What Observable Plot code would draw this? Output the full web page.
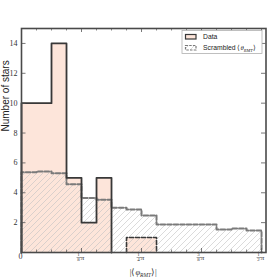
<!DOCTYPE html>
<html><head><meta charset="utf-8">
<script src="https://cdn.jsdelivr.net/npm/d3@7"></script>
<script src="https://cdn.jsdelivr.net/npm/@observablehq/plot@0.6"></script>
<style>body{margin:0;background:#fff}</style>
</head><body><div id="chart"></div>
<script>
// bins in units of pi/32
const binIndex = [0,1,2,3,4,5,6,7,8,9,10,11,12,13,14,15];
const dataCounts = [10,10,14,5,2,5,0,1,1,0,0,0,0,0,0,0];
const scrambledCounts = [5.37,5.42,5.3,4.57,3.65,3.54,3.0,2.88,2.48,1.88,1.88,1.88,1.88,1.54,1.61,1.48];
const xNumerators = [1,1,3,1];
const xDenominators = [8,4,8,2];
const yTicks = [2,4,6,8,10,12,14];
const seriesNames = ["Data", "Scrambled"];

const W = Math.PI/32;
const bins = binIndex.map((k,i)=>({x1:k*W, x2:(k+1)*W, data:dataCounts[i], scr:scrambledCounts[i]}));
function steps(values, from, to){
  const pts=[{x:from*W,y:0}];
  for(let i=from;i<to;i++) pts.push({x:i*W,y:values[i]});
  pts.push({x:to*W,y:0});
  return pts;
}
const majorX = [0, ...xNumerators.map((n,i)=>n/xDenominators[i]*Math.PI)];
const fracTicks = xNumerators.map((n,i)=>({x:n/xDenominators[i]*Math.PI, num:String(n), den:String(xDenominators[i])}));
const minorX = binIndex.slice(1).map(k=>k*W).filter(v=>!majorX.some(m=>Math.abs(m-v)<1e-9));

const mL=21, mR=14.5, mT=28, mB=28, H=280, Wd=280;
const ph = H-mT-mB, pw = Wd-mL-mR;
const serif = "Liberation Serif";
const tickC = "#555";

const plot = Plot.plot({
  width: Wd, height: H,
  marginLeft: mL, marginRight: mR, marginTop: mT, marginBottom: mB,
  x: {domain:[0,1.6], axis:null},
  y: {domain:[0,15], axis:null},
  style: {background:"#fff"},
  marks: [
    Plot.rectY(bins.filter(d=>d.data>0), {x1:"x1", x2:"x2", y:"data", fill:"#fde5da"}),
    Plot.rectY(bins, {x1:"x1", x2:"x2", y:"scr", fill:"url(#hatch)"}),
    Plot.line(steps(scrambledCounts,0,16), {x:"x", y:"y", curve:"step-after", stroke:"#7a7a7a", strokeWidth:2, strokeDasharray:"4.5,2"}),
    Plot.line(steps(dataCounts,0,6), {x:"x", y:"y", curve:"step-after", stroke:"#383838", strokeWidth:1.8}),
    Plot.line(steps(dataCounts,7,9), {x:"x", y:"y", curve:"step-after", stroke:"#383838", strokeWidth:1.6, strokeDasharray:"4,2"}),
    // ticks
    Plot.tickX(majorX, {x:d=>d, insetTop:ph-4, stroke:tickC, strokeWidth:0.8}),
    Plot.tickX(majorX, {x:d=>d, insetBottom:ph-4, stroke:tickC, strokeWidth:0.8}),
    Plot.tickX(minorX, {x:d=>d, insetTop:ph-2.5, stroke:tickC, strokeWidth:0.7}),
    Plot.tickX(minorX, {x:d=>d, insetBottom:ph-2.5, stroke:tickC, strokeWidth:0.7}),
    Plot.tickY(yTicks, {y:d=>d, insetRight:pw-4.5, stroke:tickC, strokeWidth:0.8}),
    Plot.tickY(yTicks, {y:d=>d, insetLeft:pw-4.5, stroke:tickC, strokeWidth:0.8}),
    Plot.frame({stroke:"#4a4a4a", strokeWidth:1.6}),
    // y tick labels
    Plot.text(yTicks, {y:d=>d, text:d=>String(d), frameAnchor:"left", textAnchor:"end", dx:-4, fontFamily:serif, fontSize:8, fill:"#333"}),
    // x tick label 0
    Plot.text([0], {x:d=>d, text:()=>"0", frameAnchor:"bottom", dy:6, dx:-1, fontFamily:serif, fontSize:8, fill:"#333"}),
    // fraction bars
    Plot.dot(fracTicks, {x:"x", frameAnchor:"bottom", dy:5, dx:-2.6, r:1.6, stroke:"#333", strokeWidth:0.45,
      symbol:{draw(ctx, size){const r=Math.sqrt(size)/1.2; ctx.moveTo(-r,0); ctx.lineTo(r,0);}}}),
    // y label
    Plot.text(["Number of stars"], {frameAnchor:"left", text:d=>d, rotate:-90, dx:-16, dy:-9, fontFamily:"Liberation Sans", fontSize:10, fill:"#222"})
  ]
});

const svg = d3.select(plot);
const xs = plot.scale("x");
const defs = svg.append("defs");
const pat = defs.append("pattern").attr("id","hatch").attr("patternUnits","userSpaceOnUse").attr("width",6).attr("height",6);
pat.append("path").attr("d","M-1,1 L1,-1 M0,6 L6,0 M5,7 L7,5").attr("stroke","#c2c2c2").attr("stroke-width",0.6).attr("fill","none");

// fractional x tick labels (one text per tick)
const by = H - mB;
fracTicks.forEach(t=>{
  const px = xs.apply(t.x);
  const tx = svg.append("text").attr("font-family", serif).attr("fill","#333").attr("text-anchor","start");
  tx.append("tspan").attr("x", px-3.8).attr("y", by+4.4).attr("font-size",5).text(t.num);
  tx.append("tspan").attr("x", px-3.8).attr("y", by+8.9).attr("font-size",5).text(t.den);
  tx.append("tspan").attr("x", px-0.2).attr("y", by+8).attr("font-size",7).attr("font-style","italic").text("\u03c0");
});

// x label
const xl = svg.append("text").attr("x", mL+pw/2).attr("y", 275).attr("text-anchor","middle")
  .attr("font-family", serif).attr("font-size", 8.5).attr("fill","#333");
xl.append("tspan").text("|\u27e8");
xl.append("tspan").attr("font-style","italic").text("\u03c6");
xl.append("tspan").attr("font-style","italic").attr("font-size",5.5).attr("dy",1.8).text("RMT");
xl.append("tspan").attr("dy",-1.8).text("\u27e9|");

// legend
const lg = svg.append("g").attr("text-anchor","start");
lg.append("rect").attr("x",182).attr("y",30.5).attr("width",80).attr("height",23).attr("fill","#fff").attr("stroke","#b0b0b0").attr("stroke-width",0.8);
lg.append("rect").attr("x",185.5).attr("y",34.5).attr("width",10.5).attr("height",4.5).attr("fill","#fde5da").attr("stroke","#383838").attr("stroke-width",1.2);
lg.append("rect").attr("x",185.5).attr("y",45.5).attr("width",10.5).attr("height",4.5).attr("fill","url(#hatch)").attr("stroke","#7a7a7a").attr("stroke-width",1.2).attr("stroke-dasharray","2.5,1.2");
lg.append("text").attr("x",203).attr("y",37).attr("dy","0.35em").attr("font-family","Liberation Sans").attr("font-size",6.8).attr("fill","#222").text(seriesNames[0]);
const t2 = lg.append("text").attr("x",203).attr("y",48).attr("dy","0.35em").attr("font-family","Liberation Sans").attr("font-size",6.8).attr("fill","#222");
t2.append("tspan").text(seriesNames[1] + " ");
t2.append("tspan").attr("font-family",serif).text("\u27e8");
t2.append("tspan").attr("font-family",serif).attr("font-style","italic").text("\u03b8");
t2.append("tspan").attr("font-family",serif).attr("font-style","italic").attr("font-size",4.5).attr("dy",1.3).text("RMT");
t2.append("tspan").attr("font-family",serif).attr("dy",-1.3).text("\u27e9");

document.getElementById("chart").appendChild(plot);
</script>
</body></html>
